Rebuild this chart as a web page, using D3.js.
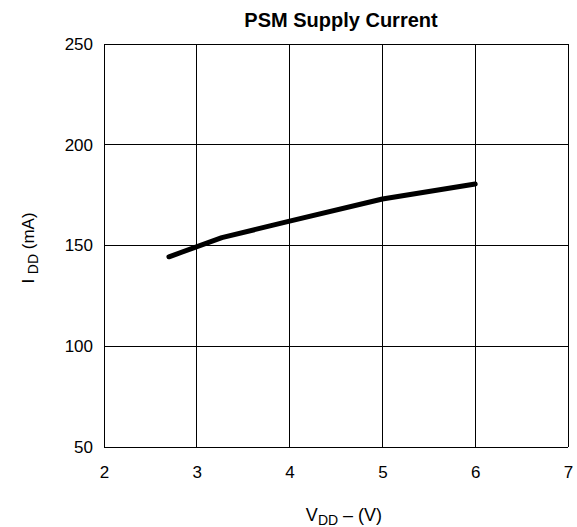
<!DOCTYPE html>
<html><head><meta charset="utf-8">
<script src="https://cdn.jsdelivr.net/npm/d3@7"></script>
<style>body{margin:0;background:#fff}svg{display:block}text{font-family:"Liberation Sans",Arial,sans-serif}</style>
</head><body>
<script>
const vdd = [2.7, 3.27, 4, 5, 6];
const idd = [144.4, 153.9, 162.1, 173.1, 180.5];
const xTicks = [2, 3, 4, 5, 6, 7];
const yTicks = [50, 100, 150, 200, 250];

const W = 577, H = 527;
const m = {l: 104, r: 9, t: 44, b: 80};
const svg = d3.select("body").append("svg").attr("width", W).attr("height", H);
const x = d3.scaleLinear().domain([2, 7]).range([m.l, W - m.r]);
const y = d3.scaleLinear().domain([50, 250]).range([H - m.b, m.t]);

// grid
svg.append("g").selectAll("line").data(xTicks).join("line")
  .attr("x1", d => x(d)).attr("x2", d => x(d)).attr("y1", y(50)).attr("y2", y(250))
  .attr("stroke", "#000").attr("stroke-width", 1).attr("shape-rendering", "crispEdges");
svg.append("g").selectAll("line").data(yTicks).join("line")
  .attr("y1", d => y(d)).attr("y2", d => y(d)).attr("x1", x(2)).attr("x2", x(7))
  .attr("stroke", "#000").attr("stroke-width", 1).attr("shape-rendering", "crispEdges");

// axes labels via d3 axes
const xa = svg.append("g").attr("transform", `translate(0,${y(50)})`)
  .call(d3.axisBottom(x).tickValues(xTicks).tickSize(0).tickPadding(19).tickFormat(d3.format("d")));
const ya = svg.append("g").attr("transform", `translate(${x(2)},0)`)
  .call(d3.axisLeft(y).tickValues(yTicks).tickSize(0).tickPadding(11).tickFormat(d3.format("d")));
[xa, ya].forEach(g => {
  g.select(".domain").remove();
  g.selectAll("text").attr("font-size", 17).attr("fill", "#000")
    .attr("font-family", '"Liberation Sans",Arial,sans-serif');
});

// line
svg.append("path").datum(vdd.map((v, i) => [v, idd[i]]))
  .attr("d", d3.line().x(d => x(d[0])).y(d => y(d[1])))
  .attr("fill", "none").attr("stroke", "#000").attr("stroke-width", 5)
  .attr("stroke-linecap", "round").attr("stroke-linejoin", "round");

// title
svg.append("text").attr("x", 341).attr("y", 27).attr("text-anchor", "middle")
  .attr("font-size", 20).attr("font-weight", "bold").text("PSM Supply Current");

// x title
const xt = svg.append("text").attr("x", 344).attr("y", 521).attr("text-anchor", "middle").attr("font-size", 18);
xt.append("tspan").text("V");
xt.append("tspan").attr("font-size", 14).attr("dy", 4).text("DD");
xt.append("tspan").attr("dy", -4).text(" – (V)");

// y title
const yt = svg.append("text").attr("transform", "translate(34,248) rotate(-90)").attr("text-anchor", "middle").attr("font-size", 17);
yt.append("tspan").text("I ");
yt.append("tspan").attr("font-size", 14).attr("dy", 4).text("DD");
yt.append("tspan").attr("dy", -4).text(" (mA)");
</script>
</body></html>
